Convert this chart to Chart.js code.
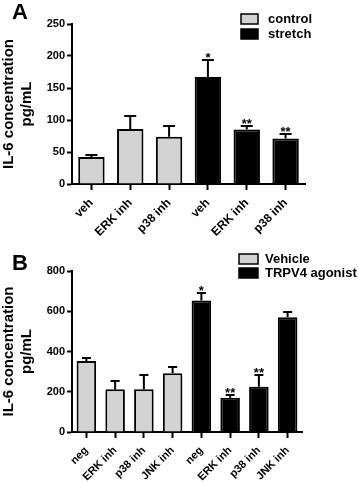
<!DOCTYPE html>
<html>
<head>
<meta charset="utf-8">
<script src="https://cdn.jsdelivr.net/npm/chart.js@4.4.0/dist/chart.umd.min.js"></script>
<style>
  body { margin: 0; background: #fff; }
  canvas { display: block; }
</style>
</head>
<body>
<canvas id="chartA" width="358" height="240"></canvas>
<canvas id="chartB" width="358" height="243"></canvas>
<script>
// panel A
const labelsA = ['veh', 'ERK inh', 'p38 inh', 'veh', 'ERK inh', 'p38 inh'];
const controlA = [42, 86, 74];
const stretchA = [167, 85, 71];
const errTopA = [46, 106, 90, 194, 91, 78];
const starsA = ['', '', '', '*', '**', '**'];
const ticksA = [0, 50, 100, 150, 200, 250];

// panel B
const labelsB = ['neg', 'ERK inh', 'p38 inh', 'JNK inh', 'neg', 'ERK inh', 'p38 inh', 'JNK inh'];
const vehicleB = [353, 213, 212, 292];
const agonistB = [653, 170, 225, 570];
const errTopB = [366, 252, 283, 325, 692, 185, 283, 595];
const starsB = ['', '', '', '', '*', '**', '**', ''];
const ticksB = [0, 200, 400, 600, 800];

const FONT = '"Liberation Sans", Arial, Helvetica, sans-serif';
const GRAY = '#d3d3d3';

const extras = {
    id: 'extras',
    afterDatasetsDraw(chart, args, opts) {
        const ctx = chart.ctx;
        const y = chart.scales.y;
        ctx.save();
        ctx.strokeStyle = '#000';
        ctx.fillStyle = '#000';
        ctx.lineWidth = 2;
        ctx.font = 'bold 13px ' + FONT;
        ctx.textAlign = 'center';
        ctx.textBaseline = 'alphabetic';
        opts.errTop.forEach((e, i) => {
            const ds = i < opts.split ? 0 : 1;
            const bar = chart.getDatasetMeta(ds).data[i];
            const ey = Math.round(y.getPixelForValue(e));
            ctx.beginPath();
            ctx.moveTo(bar.x, bar.y);
            ctx.lineTo(bar.x, ey);
            ctx.moveTo(bar.x - opts.cap / 2, ey);
            ctx.lineTo(bar.x + opts.cap / 2, ey);
            ctx.stroke();
            if (opts.stars[i]) {
                ctx.fillText(opts.stars[i], bar.x, ey + 2);
            }
        });
        ctx.restore();
    },
    afterDraw(chart, args, opts) {
        const ctx = chart.ctx;
        ctx.save();
        // panel letter
        ctx.fillStyle = '#000';
        ctx.font = 'bold 22px ' + FONT;
        ctx.textBaseline = 'top';
        ctx.textAlign = 'left';
        ctx.fillText(opts.letter, 12, opts.letterY);
        // legend
        ctx.font = 'bold 13px ' + FONT;
        ctx.textBaseline = 'middle';
        chart.data.datasets.forEach((d, i) => {
            const cy = opts.legendY[i];
            ctx.fillStyle = d.backgroundColor;
            ctx.fillRect(opts.boxX, cy - 5, opts.boxW, 10);
            ctx.strokeStyle = '#000';
            ctx.lineWidth = 1.5;
            ctx.strokeRect(opts.boxX, cy - 5, opts.boxW, 10);
            ctx.fillStyle = '#000';
            ctx.fillText(d.label, opts.textX, cy);
        });
        ctx.restore();
    }
};

function makeChart(id, labels, names, first, second, errTop, stars, ticks, box) {
    const split = first.length;
    const pad = new Array(labels.length - split).fill(null);
    const padFirst = new Array(split).fill(null);
    return new Chart(document.getElementById(id), {
        type: 'bar',
        data: {
            labels: labels,
            datasets: [{
                label: names[0],
                data: first.concat(pad),
                backgroundColor: GRAY,
                borderColor: '#000',
                borderWidth: 2,
                grouped: false,
                barPercentage: 0.68,
                categoryPercentage: 1
            }, {
                label: names[1],
                data: padFirst.concat(second),
                backgroundColor: '#000',
                borderColor: '#000',
                borderWidth: 2,
                grouped: false,
                barPercentage: 0.68,
                categoryPercentage: 1
            }]
        },
        options: {
            responsive: false,
            animation: false,
            layout: { padding: { top: box.top, right: box.right, left: 0, bottom: 0 } },
            plugins: {
                legend: { display: false },
                tooltip: { enabled: false },
                extras: Object.assign({ errTop: errTop, stars: stars, split: split }, box.extras)
            },
            scales: {
                x: {
                    grid: { offset: false, drawOnChartArea: false, drawTicks: true, tickLength: 6, tickWidth: 2, tickColor: '#000' },
                    border: { color: '#000', width: 2 },
                    ticks: {
                        color: '#000',
                        font: { family: FONT, size: box.xFont, weight: 'bold' },
                        minRotation: 45,
                        maxRotation: 45,
                        padding: 6
                    },
                    afterFit(s) { s.height = box.xHeight; }
                },
                y: {
                    min: ticks[0],
                    max: ticks[ticks.length - 1],
                    ticks: {
                        stepSize: ticks[1] - ticks[0],
                        color: '#000',
                        font: { family: FONT, size: 11, weight: 'bold' },
                        padding: 2
                    },
                    grid: { drawOnChartArea: false, drawTicks: true, tickLength: 5, tickWidth: 2, tickColor: '#000' },
                    border: { color: '#000', width: 2 },
                    title: {
                        display: true,
                        text: ['IL-6 concentration', 'pg/mL'],
                        color: '#000',
                        font: { family: FONT, size: 15, weight: 'bold' },
                        padding: 0
                    },
                    afterFit(s) { s.width = 72; }
                }
            }
        },
        plugins: [extras]
    });
}

makeChart('chartA', labelsA, ['control', 'stretch'], controlA, stretchA, errTopA, starsA, ticksA, {
    top: 24, right: 53, xHeight: 56, xFont: 12,
    extras: { cap: 12, letter: 'A', letterY: 2, boxX: 241, boxW: 17, textX: 268, legendY: [19, 34] }
});

makeChart('chartB', labelsB, ['Vehicle', 'TRPV4 agonist'], vehicleB, agonistB, errTopB, starsB, ticksB, {
    top: 31, right: 56, xHeight: 51, xFont: 11,
    extras: { cap: 9, letter: 'B', letterY: 13, boxX: 239, boxW: 19, textX: 265, legendY: [19, 33] }
});
</script>
</body>
</html>
